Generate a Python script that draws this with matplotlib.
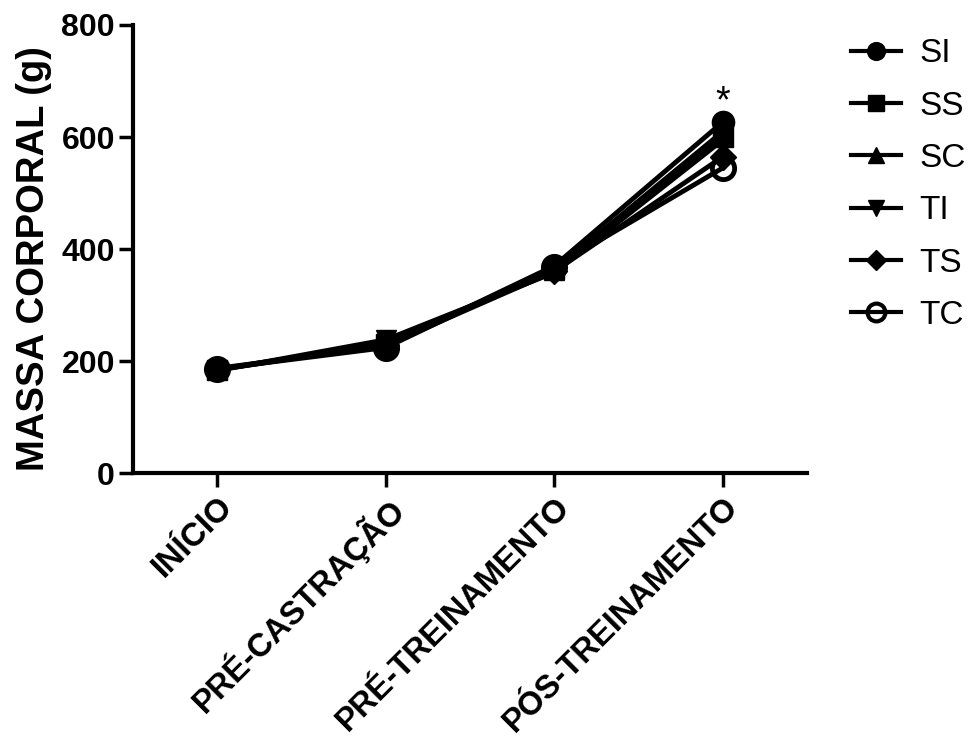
import matplotlib
matplotlib.use("Agg")
import matplotlib.pyplot as plt
from matplotlib.lines import Line2D

plt.rcParams['font.family'] = ['Liberation Sans', 'DejaVu Sans']

categories = ["INÍCIO", "PRÉ-CASTRAÇÃO", "PRÉ-TREINAMENTO", "PÓS-TREINAMENTO"]
series_names = ["SI", "SS", "SC", "TI", "TS", "TC"]
SI = [187, 226, 370, 627]
SS = [184, 230, 365, 600]
SC = [185, 232, 362, 610]
TI = [183, 238, 358, 595]
TS = [185, 228, 360, 565]
TC = [186, 224, 368, 545]
values = [SI, SS, SC, TI, TS, TC]
yticks = [0, 200, 400, 600, 800]
star_label = "*"
star_value = 662

markers = ['o', 's', '^', 'v', 'D', 'o']
msizes = [16, 14, 15, 15, 13, 16]

fig = plt.figure(figsize=(9.8, 7.53), dpi=100)
ax = fig.add_axes([0.1357, 0.3718, 0.688, 0.595])

x = list(range(len(categories)))
for name, vals, m, ms in zip(series_names, values, markers, msizes):
    face = 'none' if name == 'TC' else 'black'
    mew = 3.5 if name == 'TC' else 1
    ax.plot(x, vals, color='black', lw=3.5, marker=m, ms=ms,
            markerfacecolor=face, markeredgecolor='black', markeredgewidth=mew,
            label=name, clip_on=False)

ax.text(x[-1], star_value, star_label, ha='center', va='center',
        fontsize=27)

ax.set_xlim(-0.5, 3.5)
ax.set_ylim(0, 800)
ax.set_yticks(yticks)
ax.set_yticklabels([str(v) for v in yticks], fontsize=23, fontweight='bold')
ax.set_xticks(x)
ax.set_xticklabels(categories, rotation=45, ha='right', rotation_mode='anchor',
                   fontsize=23.5, fontweight='bold')
ax.set_ylabel("MASSA CORPORAL (g)", fontsize=27.5, fontweight='bold')
ax.yaxis.set_label_coords(-0.12, 0.478)

for s in ['top', 'right']:
    ax.spines[s].set_visible(False)
for s in ['left', 'bottom']:
    ax.spines[s].set_linewidth(3)
ax.tick_params(axis='both', length=10, width=2.5, direction='out', pad=3)

leg_handles = []
for name, m, ms in zip(series_names, markers, msizes):
    face = 'none' if name == 'TC' else 'black'
    mew = 3 if name == 'TC' else 1
    leg_handles.append(Line2D([0], [0], color='black', lw=3, marker=m,
                              ms=ms * 0.8, markerfacecolor=face,
                              markeredgecolor='black', markeredgewidth=mew))
fig.legend(leg_handles, series_names, loc='upper left',
           bbox_to_anchor=(0.855, 0.967), frameon=False, fontsize=24,
           handlelength=1.5, handletextpad=0.55, labelspacing=0.64,
           borderaxespad=0)

fig.savefig("out.png", dpi=100, facecolor='white')
